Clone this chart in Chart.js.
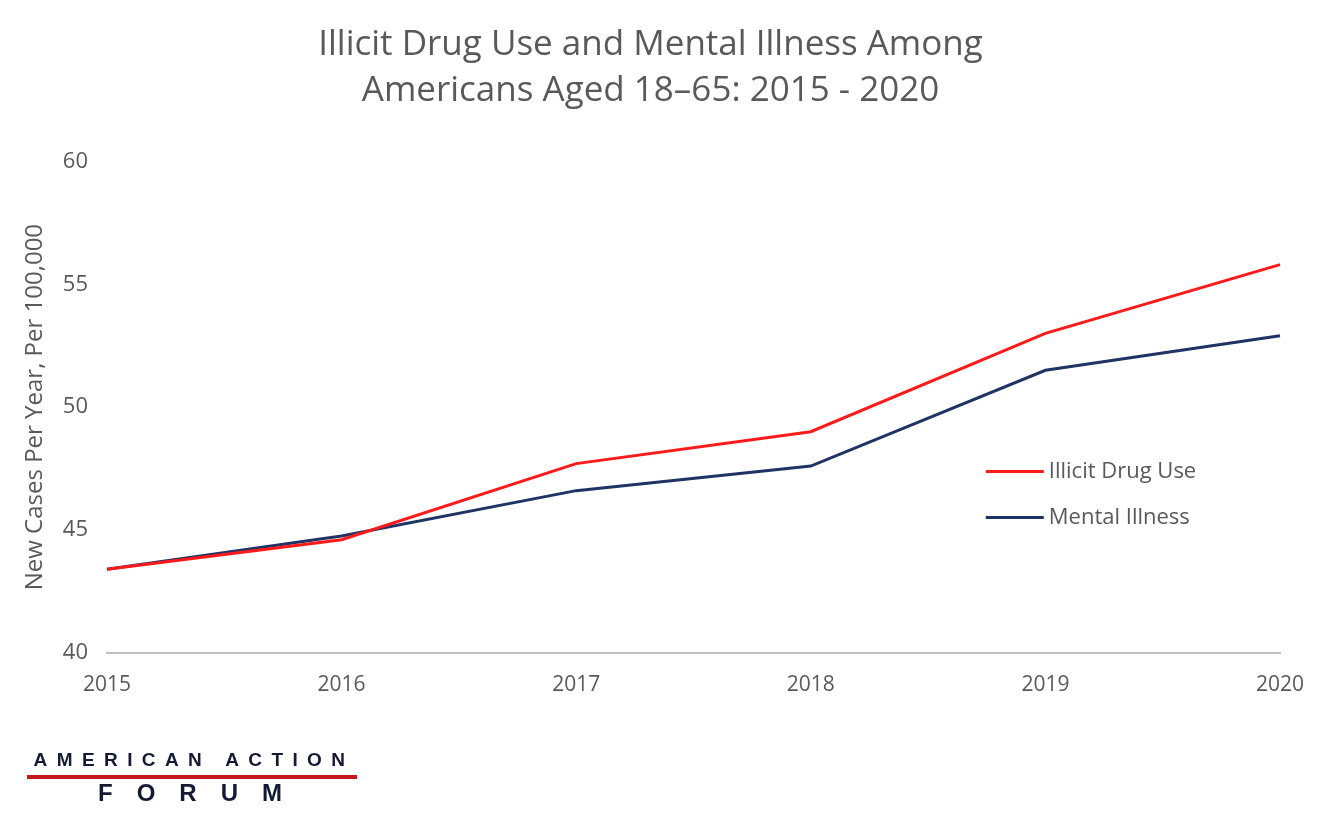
<!DOCTYPE html>
<html>
<head>
<meta charset="utf-8">
<script src="https://cdn.jsdelivr.net/npm/chart.js@4"></script>
<style>
  body { margin: 0; background: #fff; }
  #wrap { position: relative; width: 1320px; height: 818px; }
  #logo { position: absolute; left: 27px; top: 749px; width: 330px; font-family: "Liberation Sans", Arial, sans-serif; color: #141a33; }
  #logo .top { font-size: 19px; font-weight: bold; letter-spacing: 9.4px; text-align: center; line-height: 22px; padding-left: 4px; white-space: nowrap; }
  #logo .bar { height: 4px; background: #c4161c; margin: 4px 0 1px 0; }
  #logo .bot { font-size: 24px; font-weight: bold; letter-spacing: 24px; text-align: center; padding-left: 20px; line-height: 26px; }
</style>
</head>
<body>
<div id="wrap">
  <canvas id="chart" width="1320" height="818"></canvas>
  <div id="logo">
    <div class="top">AMERICAN ACTION</div>
    <div class="bar"></div>
    <div class="bot">FORUM</div>
  </div>
</div>
<script>
var years = ['2015', '2016', '2017', '2018', '2019', '2020'];
var drugUse = [43.4, 44.6, 47.7, 49.0, 53.0, 55.8];
var mentalIllness = [43.4, 44.75, 46.6, 47.6, 51.5, 52.9];
var yTicks = [40, 45, 50, 55, 60];

var gray = '#595959';
var font = '"Open Sans", sans-serif';

// legend drawn inside the plot, like the original
var innerLegend = {
    id: 'innerLegend',
    afterDraw: function (chart) {
        var ctx = chart.ctx;
        var x = chart.scales.x.getPixelForValue(3) + 175;
        var y0 = chart.scales.y.getPixelForValue(47.38);
        ctx.save();
        ctx.font = '22px ' + font;
        ctx.textBaseline = 'middle';
        chart.data.datasets.forEach(function (ds, i) {
            var y = y0 + i * 46;
            ctx.strokeStyle = ds.borderColor;
            ctx.lineWidth = 3;
            ctx.beginPath();
            ctx.moveTo(x, y);
            ctx.lineTo(x + 58, y);
            ctx.stroke();
            ctx.fillStyle = gray;
            ctx.fillText(ds.label, x + 63, y);
        });
        ctx.restore();
    }
};

var ctx = document.getElementById('chart');
var chart = new Chart(ctx, {
    type: 'line',
    data: {
        labels: years,
        datasets: [{
            label: 'Illicit Drug Use',
            data: drugUse,
            borderColor: '#ff1a1a',
            borderWidth: 3,
            pointRadius: 0,
            tension: 0
        }, {
            label: 'Mental Illness',
            data: mentalIllness,
            borderColor: '#1f3464',
            borderWidth: 3,
            pointRadius: 0,
            tension: 0
        }]
    },
    options: {
        responsive: false,
        animation: false,
        layout: { padding: { left: 21, right: 40, top: 22, bottom: 100 } },
        plugins: {
            legend: { display: false },
            tooltip: { enabled: false },
            title: {
                display: true,
                text: ['Illicit Drug Use and Mental Illness Among', 'Americans Aged 18\u201365: 2015 - 2020'],
                color: gray,
                font: { family: font, size: 35, weight: 'normal', lineHeight: 1.32 },
                padding: { top: 0, bottom: 47 }
            }
        },
        scales: {
            x: {
                grid: { display: false, drawTicks: false },
                border: { color: '#bfbfbf', width: 2 },
                ticks: { color: gray, font: { family: font, size: 21 }, padding: 20, maxRotation: 0 },
                afterFit: function (scale) { scale.paddingRight = 0; }
            },
            y: {
                min: 40,
                max: 60,
                afterBuildTicks: function (axis) {
                    axis.ticks = yTicks.map(function (v) { return { value: v }; });
                },
                grid: { display: false, drawTicks: false },
                border: { display: false },
                ticks: { color: gray, font: { family: font, size: 22 }, padding: 19 },
                title: {
                    display: true,
                    text: 'New Cases Per Year, Per 100,000',
                    color: gray,
                    font: { family: font, size: 24 },
                    padding: { top: 0, bottom: -6 }
                }
            }
        }
    },
    plugins: [innerLegend]
});
</script>
</body>
</html>
